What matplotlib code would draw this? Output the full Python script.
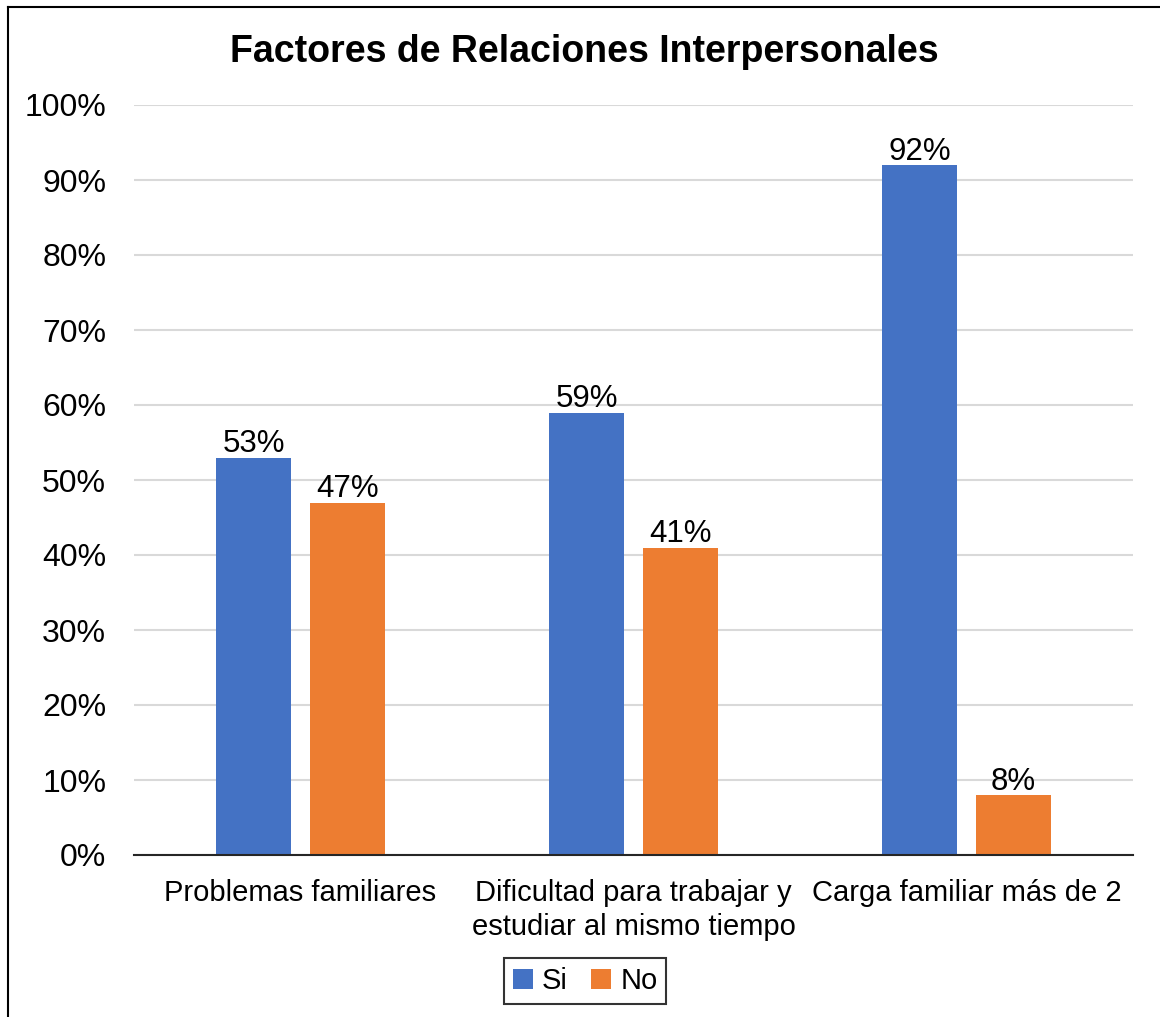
import numpy as np
import matplotlib.pyplot as plt
from matplotlib.lines import Line2D
from matplotlib.ticker import FuncFormatter

categories = ["Problemas familiares",
              "Dificultad para trabajar y\nestudiar al mismo tiempo",
              "Carga familiar más de 2"]
si_values = [53, 59, 92]
no_values = [47, 41, 8]
series_names = ["Si", "No"]

BLUE = "#4472C4"
ORANGE = "#ED7D31"

plt.rcParams["font.family"] = ["Liberation Sans", "DejaVu Sans"]

fig = plt.figure(figsize=(11.6, 10.17), dpi=100)
ax = fig.add_axes([134 / 1160, 1 - 855 / 1017, (1133 - 134) / 1160, (855 - 105) / 1017])

x = np.arange(len(categories))
w = 0.224
off = 0.141
b1 = ax.bar(x - off, si_values, w, color=BLUE, label=series_names[0])
b2 = ax.bar(x + off, no_values, w, color=ORANGE, label=series_names[1])

for bars in (b1, b2):
    for rect in bars:
        v = rect.get_height()
        ax.text(rect.get_x() + rect.get_width() / 2, v - 0.2, f"{v:.0f}%",
                ha="center", va="bottom", fontsize=22.5)

ax.set_xlim(-0.5, 2.5)
ax.set_ylim(0, 100)
ax.set_yticks(np.arange(0, 101, 10))
ax.yaxis.set_major_formatter(FuncFormatter(lambda v, p: f"{v:.0f}%"))
ax.set_xticks(x)
ax.set_xticklabels(categories, fontsize=21, linespacing=1.27)
ax.tick_params(axis="y", labelsize=23, length=0, pad=20)
ax.tick_params(axis="x", length=0, pad=17)
ax.grid(axis="y", color="#d9d9d9", linewidth=1.5)
ax.set_axisbelow(True)
for s in ["top", "right", "left"]:
    ax.spines[s].set_visible(False)
ax.spines["bottom"].set_color("#262626")
ax.spines["bottom"].set_linewidth(1.5)

fig.text(0.504, 1 - 52 / 1017, "Factores de Relaciones Interpersonales",
         ha="center", va="center", fontsize=27, fontweight="bold")

leg = fig.legend(loc="center", bbox_to_anchor=(585 / 1160, 1 - 981 / 1017),
                 ncol=2, fontsize=21, frameon=True, fancybox=False,
                 handlelength=0.7, handleheight=0.7, handletextpad=0.3,
                 columnspacing=0.8, borderpad=0.3, borderaxespad=0)
leg.get_frame().set_edgecolor("black")
leg.get_frame().set_linewidth(1.5)

# outer border (partially cropped in the original)
fig.add_artist(Line2D([8 / 1160, 8 / 1160], [0, 1 - 7 / 1017], color="black", lw=1.5,
                      transform=fig.transFigure))
fig.add_artist(Line2D([8 / 1160, 1], [1 - 7 / 1017, 1 - 7 / 1017], color="black", lw=1.5,
                      transform=fig.transFigure))

fig.savefig("out.png", dpi=100)
